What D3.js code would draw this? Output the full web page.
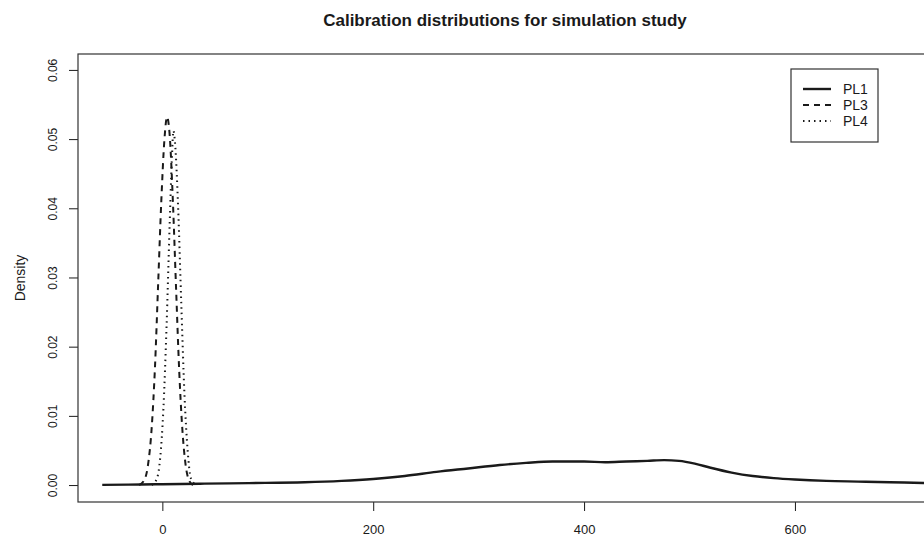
<!DOCTYPE html>
<html>
<head>
<meta charset="utf-8">
<script src="https://cdn.jsdelivr.net/npm/d3@7"></script>
<style>
  body { margin: 0; background: #fff; }
  svg { display: block; font-family: "Liberation Sans", Arial, sans-serif; }
</style>
</head>
<body>
<svg id="chart" width="924" height="540"></svg>
<script>
// density curves
var pl1_x = [-57, -20, 0, 40, 82, 135, 170, 200, 230, 260, 290, 320, 345, 370, 400, 420, 440, 460, 476, 490, 505, 520, 540, 560, 580, 600, 630, 660, 690, 722, 750];
var pl1_y = [0.00003, 0.00008, 0.00012, 0.0002, 0.00028, 0.0004, 0.0006, 0.00088, 0.0013, 0.0019, 0.0024, 0.0029, 0.0032, 0.0034, 0.0034, 0.0033, 0.0034, 0.0035, 0.0036, 0.0035, 0.0031, 0.0025, 0.0018, 0.0013, 0.0010, 0.0008, 0.0006, 0.0005, 0.0004, 0.0003, 0.0002];

var pl3_x = [-22, -18, -14, -10, -7, -4, -1, 2, 4.5, 7, 10, 13, 16, 19, 22, 25, 29];
var pl3_y = [0, 0.0005, 0.0025, 0.0085, 0.017, 0.029, 0.041, 0.050, 0.0532, 0.0505, 0.041, 0.0285, 0.0165, 0.008, 0.003, 0.0008, 0];

var pl4_x = [-10, -5, -2, 1, 4, 7, 9, 10.5, 12, 15, 18, 21, 24, 27, 32];
var pl4_y = [0, 0.001, 0.004, 0.011, 0.023, 0.038, 0.047, 0.0512, 0.0495, 0.040, 0.026, 0.013, 0.005, 0.001, 0];

var series_names = ['PL1', 'PL3', 'PL4'];
var x_ticks = [0, 200, 400, 600];
var y_ticks = [0, 0.01, 0.02, 0.03, 0.04, 0.05, 0.06];

var svg = d3.select('#chart');

// plot box, right side runs off the picture
var box = {left: 78, top: 54, right: 932, bottom: 502};

var x_scale = d3.scaleLinear().domain([-80, 730]).range([box.left, box.right]);
var y_scale = d3.scaleLinear().domain([-0.00245, 0.0623]).range([box.bottom, box.top]);

var ink = '#1a1a1a';

svg.append('defs').append('clipPath')
  .attr('id', 'plot_clip')
  .append('rect')
  .attr('x', box.left)
  .attr('y', box.top)
  .attr('width', box.right - box.left)
  .attr('height', box.bottom - box.top);

// title
svg.append('text')
  .attr('x', (box.left + box.right) / 2)
  .attr('y', 26)
  .attr('text-anchor', 'middle')
  .style('font-size', '17px')
  .style('font-weight', 'bold')
  .attr('fill', ink)
  .text('Calibration distributions for simulation study');

// axes
var x_axis = d3.axisBottom(x_scale)
  .tickValues(x_ticks)
  .tickSize(9)
  .tickPadding(14)
  .tickFormat(d3.format('d'));

svg.append('g')
  .attr('class', 'x_axis')
  .attr('transform', 'translate(0,' + box.bottom + ')')
  .call(x_axis)
  .call(function(g) {
    g.select('.domain').remove();
    g.selectAll('line').attr('stroke', ink);
    g.selectAll('text').attr('fill', ink).style('font-size', '13px').style('font-family', null);
  });

var y_axis = d3.axisLeft(y_scale)
  .tickValues(y_ticks)
  .tickSize(9)
  .tickFormat(d3.format('.2f'));

svg.append('g')
  .attr('class', 'y_axis')
  .attr('transform', 'translate(' + box.left + ',0)')
  .call(y_axis)
  .call(function(g) {
    g.select('.domain').remove();
    g.selectAll('line').attr('stroke', ink);
    g.selectAll('text')
      .attr('fill', ink)
      .style('font-size', '12px')
      .style('font-family', null)
      .attr('x', null)
      .attr('dy', null)
      .attr('text-anchor', 'middle')
      .attr('transform', 'translate(-25,0) rotate(-90)')
      .attr('dominant-baseline', 'central');
  });

// y label
svg.append('text')
  .attr('transform', 'translate(20,' + (box.top + box.bottom) / 2 + ') rotate(-90)')
  .attr('text-anchor', 'middle')
  .attr('dominant-baseline', 'central')
  .style('font-size', '14px')
  .attr('fill', ink)
  .text('Density');

// box
svg.append('rect')
  .attr('x', box.left)
  .attr('y', box.top)
  .attr('width', box.right - box.left)
  .attr('height', box.bottom - box.top)
  .attr('fill', 'none')
  .attr('stroke', '#333')
  .attr('stroke-width', 1.2);

var line = d3.line()
  .x(function(d) { return x_scale(d[0]); })
  .y(function(d) { return y_scale(d[1]); })
  .curve(d3.curveMonotoneX);

var curves = [
  {name: 'PL1', pts: d3.zip(pl1_x, pl1_y), dash: null, width: 2.4},
  {name: 'PL3', pts: d3.zip(pl3_x, pl3_y), dash: '6,5', width: 2},
  {name: 'PL4', pts: d3.zip(pl4_x, pl4_y), dash: '1.5,4', width: 2}
];

svg.append('g')
  .attr('clip-path', 'url(#plot_clip)')
  .selectAll('path')
  .data(curves)
  .enter()
  .append('path')
  .attr('d', function(d) { return line(d.pts); })
  .attr('fill', 'none')
  .attr('stroke', ink)
  .attr('stroke-width', function(d) { return d.width; })
  .attr('stroke-dasharray', function(d) { return d.dash; });

// legend
var legend = svg.append('g').attr('class', 'legend');
legend.append('rect')
  .attr('x', 791)
  .attr('y', 69)
  .attr('width', 87)
  .attr('height', 73)
  .attr('fill', '#fff')
  .attr('stroke', '#333')
  .attr('stroke-width', 1.2);

var legend_rows = legend.selectAll('.legend_row')
  .data(curves)
  .enter()
  .append('g')
  .attr('class', 'legend_row')
  .attr('transform', function(d, i) { return 'translate(0,' + (89 + i * 16) + ')'; });

legend_rows.append('line')
  .attr('x1', 803)
  .attr('x2', 831)
  .attr('stroke', ink)
  .attr('stroke-width', function(d) { return d.width; })
  .attr('stroke-dasharray', function(d) { return d.dash; });

legend_rows.append('text')
  .attr('x', 843)
  .attr('dominant-baseline', 'central')
  .style('font-size', '14px')
  .attr('fill', ink)
  .text(function(d, i) { return series_names[i]; });
</script>
</body>
</html>
